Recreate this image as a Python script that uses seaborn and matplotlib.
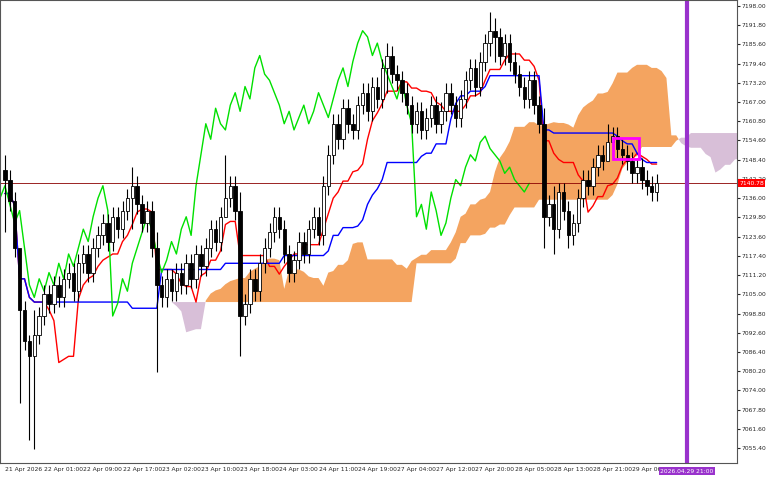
import numpy as np, pandas as pd, matplotlib
matplotlib.use("Agg")
import matplotlib.pyplot as plt
import seaborn as sns
from matplotlib.patches import Rectangle

closes = [7142,7135,7120,7100,7090,7085,7092,7098,7105,7102,
7108,7104,7110,7112,7106,7115,7118,7112,7120,7124,
7128,7122,7130,7126,7132,7136,7140,7134,7128,7132,
7120,7108,7104,7110,7106,7112,7108,7115,7110,7118,
7114,7120,7126,7122,7130,7136,7140,7132,7098,7102,
7110,7106,7115,7120,7125,7130,7126,7118,7112,7116,
7122,7118,7126,7130,7124,7140,7150,7160,7155,7165,
7160,7158,7166,7170,7164,7172,7168,7178,7182,7176,
7174,7170,7166,7160,7164,7158,7162,7166,7160,7164,
7170,7166,7162,7168,7174,7178,7172,7180,7186,7190,
7188,7182,7186,7180,7176,7172,7168,7174,7166,7160,
7130,7134,7126,7138,7132,7124,7128,7136,7142,7140,
7146,7150,7148,7154,7156,7152,7150,7148,7144,7146,
7142,7140,7138,7140.78]
first_open = 7145
big_wicks = {0:(7150,7125),3:(7105,7070),5:(7092,7058),6:(7100,7055),26:(7146,7126),
             31:(7125,7080),48:(7138,7085),45:(7150,7130),78:(7186,7170),99:(7196,7182),
             100:(7194,7180),110:(7165,7120),112:(7140,7118),115:(7135,7120),123:(7160,7148)}
default_wick = 3.0
ticklabels = ["21 Apr 2026","22 Apr 01:00","22 Apr 09:00","22 Apr 17:00","23 Apr 02:00","23 Apr 10:00",
"23 Apr 18:00","24 Apr 03:00","24 Apr 11:00","24 Apr 19:00","27 Apr 04:00","27 Apr 12:00",
"27 Apr 20:00","28 Apr 05:00","28 Apr 13:00","28 Apr 21:00","29 Apr 06:00","29 A"]
yticks = [7198.0,7191.8,7185.6,7179.4,7173.2,7167.0,7160.8,7154.6,7148.4,7142.2,7136.0,7129.8,
7123.6,7117.4,7111.2,7105.0,7098.8,7092.6,7086.4,7080.2,7074.0,7067.8,7061.6,7055.4]

sns.set_style("white")
c = np.array(closes, float); n = len(c)
o = np.r_[first_open, c[:-1]]
hi = np.maximum(o, c) + default_wick; lo = np.minimum(o, c) - default_wick
for k,(h,l) in big_wicks.items(): hi[k]=h; lo[k]=l
x = np.arange(n)
def mid(p):
    return np.array([(hi[max(0,i-p+1):i+1].max()+lo[max(0,i-p+1):i+1].min())/2 for i in range(n)])
ten, kij, sb = mid(9), mid(26), mid(52)
sa = (ten+kij)/2
fx = x+26
fig = plt.figure(figsize=(7.68,4.8), dpi=100)
ax = fig.add_axes([0, 17/480, 737/768, 463/480])
ax.fill_between(fx, sa, sb, where=sa>=sb, color="#F4A460", interpolate=True, lw=0)
ax.fill_between(fx, sa, sb, where=sa<sb, color="#D8BFD8", interpolate=True, lw=0)
df = pd.DataFrame({"x":x,"ten":ten,"kij":kij,"c":c})
sns.lineplot(data=df, x="x", y="ten", color="red", lw=1, ax=ax)
sns.lineplot(data=df, x="x", y="kij", color="blue", lw=1, ax=ax)
sns.lineplot(x=x-26, y=c, color="#00E000", lw=1, ax=ax)
for i in range(n):
    bull = c[i] >= o[i]
    ax.vlines(i, lo[i], hi[i], color="black", lw=0.8, zorder=3)
    b0, b1 = min(o[i],c[i]), max(o[i],c[i])
    ax.add_patch(Rectangle((i-0.35,b0),0.7,max(b1-b0,0.3),facecolor="white" if bull else "black",
                           edgecolor="black", lw=0.6, zorder=4))
ax.axhline(c[-1], color="#8B0000", lw=0.6)
ax.axvline(139.2, color="#9932CC", lw=3)
ax.add_patch(Rectangle((124,7148.5),5.5,7,fill=False,edgecolor="#FF00FF",lw=2,zorder=5))
ax.set_xlim(-1, 149.4); ax.set_ylim(7050.6, 7199.9)
ax.yaxis.tick_right()
ax.set_yticks(yticks); ax.set_yticklabels([f"{v:.2f}" for v in yticks], fontsize=4.3)
ax.set_xticks(np.arange(len(ticklabels))*8)
ax.set_xticklabels(ticklabels, fontsize=4.3, ha="left")
ax.tick_params(length=2, pad=1)
ax.set_xlabel(""); ax.set_ylabel("")
for s in ax.spines.values(): s.set_color("#555555"); s.set_linewidth(0.8)
ax.text(1.003, c[-1], f"{c[-1]:.2f}", transform=ax.get_yaxis_transform(), fontsize=4.3, color="white",
        va="center", bbox=dict(facecolor="red", edgecolor="none", pad=1), zorder=10)
ax.text(139.2, -0.012, "2026.04.29 21:00", transform=ax.get_xaxis_transform(), fontsize=4.3, color="white",
        ha="center", va="top", bbox=dict(facecolor="#9932CC", edgecolor="none", pad=1), zorder=10)
fig.savefig("out.png", dpi=100)
